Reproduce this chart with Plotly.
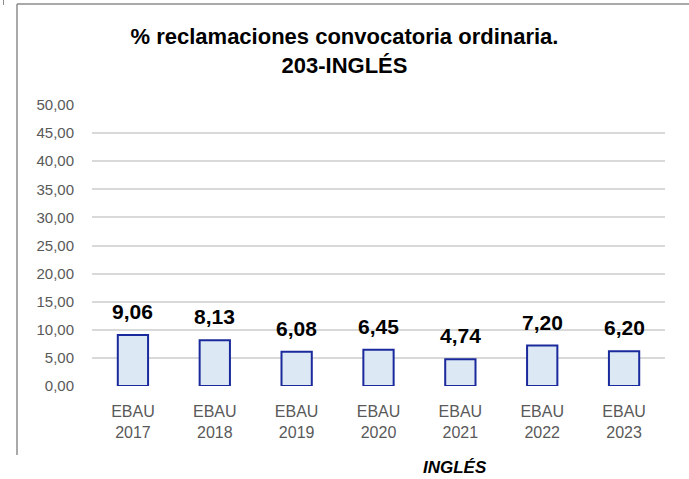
import plotly.graph_objects as go

categories = ["EBAU<br>2017", "EBAU<br>2018", "EBAU<br>2019", "EBAU<br>2020",
              "EBAU<br>2021", "EBAU<br>2022", "EBAU<br>2023"]
values = [9.06, 8.13, 6.08, 6.45, 4.74, 7.20, 6.20]
tick_vals = [0, 5, 10, 15, 20, 25, 30, 35, 40, 45, 50]
tick_text = ["0,00", "5,00", "10,00", "15,00", "20,00", "25,00", "30,00",
             "35,00", "40,00", "45,00", "50,00"]
value_text = [f"{v:.2f}".replace(".", ",") for v in values]

W, H = 689, 479
L, R, T, B = 92, 24, 105, 93

fig = go.Figure()
fig.add_trace(go.Bar(
    x=categories, y=values, width=0.37,
    marker=dict(color="#dde8f5", line=dict(color="#1a2a9c", width=2)),
    hoverinfo="skip",
))

for c, v, t in zip(categories, values, value_text):
    fig.add_annotation(x=c, y=v, text=f"<b>{t}</b>", showarrow=False,
                       yanchor="bottom", yshift=10,
                       font=dict(family="Liberation Sans", size=21, color="#000000"))

pw = W - L - R
ph = H - T - B
def px2x(px):
    return (px - L) / pw
def py2y(py):
    return (H - B - py) / ph

# chart border (left and top)
fig.add_shape(type="line", xref="paper", yref="paper",
              x0=px2x(17), x1=px2x(17), y0=py2y(4), y1=py2y(455),
              line=dict(color="#8c8c8c", width=1.5))
fig.add_shape(type="line", xref="paper", yref="paper",
              x0=px2x(17), x1=px2x(689), y0=py2y(4), y1=py2y(4),
              line=dict(color="#8c8c8c", width=1.5))
fig.add_shape(type="line", xref="paper", yref="paper",
              x0=px2x(3.5), x1=px2x(3.5), y0=py2y(0), y1=py2y(5),
              line=dict(color="#8c8c8c", width=1))

fig.add_annotation(xref="paper", yref="paper", x=px2x(455), y=py2y(467),
                   text="<b><i>INGLÉS</i></b>", showarrow=False,
                   xanchor="center", yanchor="middle",
                   font=dict(family="Liberation Sans", size=17, color="#000000"))

fig.update_layout(
    width=W, height=H,
    margin=dict(l=L, r=R, t=T, b=B),
    paper_bgcolor="white", plot_bgcolor="white",
    showlegend=False,
    title=dict(text="<b>% reclamaciones convocatoria ordinaria.<br>203-INGLÉS</b>",
               x=0.5, xanchor="center", xref="container",
               y=1 - 44 / H, yanchor="middle", yref="container",
               font=dict(family="Liberation Sans", size=22, color="#000000")),
    xaxis=dict(showgrid=False, showline=False, zeroline=False,
               tickfont=dict(family="Liberation Sans", size=16, color="#595959"),
               ticklabelstandoff=14),
    yaxis=dict(range=[0, 50], tickvals=tick_vals, ticktext=tick_text,
               showgrid=True, gridcolor="#d9d9d9", gridwidth=1.5,
               zeroline=False, showline=False,
               tickfont=dict(family="Liberation Sans", size=15, color="#595959"),
               ticklabelstandoff=17),
)

fig.write_html("out.html", config={"displayModeBar": False},
               post_script="document.body.style.margin='0';document.body.style.overflow='hidden';")
